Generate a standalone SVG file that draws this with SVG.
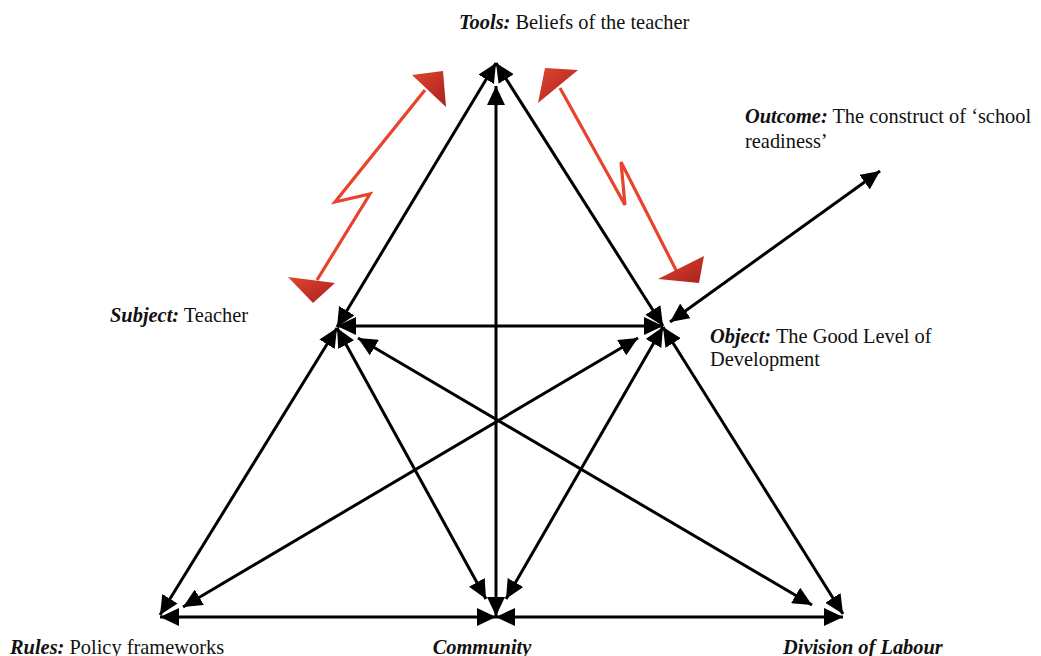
<svg xmlns="http://www.w3.org/2000/svg" width="1041" height="656" viewBox="0 0 1041 656">
  <style>
    .lbl { font-family: "Liberation Serif", "Times New Roman", serif; font-size: 20.4px; fill: #111; }
    .bi { font-weight: bold; font-style: italic; }
    .conn { stroke: #000; stroke-width: 3; fill: none; marker-start: url(#head); marker-end: url(#head); }
    .red { stroke: #e8432c; stroke-width: 3.2; fill: none; stroke-linejoin: miter; }
    .redhead { fill: url(#redgrad); }
  </style>
  <defs>
    <marker id="head" viewBox="0 0 19 18" refX="19" refY="9" markerWidth="19" markerHeight="18" markerUnits="userSpaceOnUse" orient="auto-start-reverse">
      <path d="M0,0 L19,9 L0,18 z" fill="#000"/>
    </marker>
    <linearGradient id="redgrad" x1="0" y1="0" x2="1" y2="1">
      <stop offset="0" stop-color="#e04430"/>
      <stop offset="1" stop-color="#a8221c"/>
    </linearGradient>
  </defs>
  <rect width="1041" height="656" fill="#fff"/>

  <g id="connectors">
    <line class="conn" x1="337" y1="327" x2="496" y2="63"/>
    <line class="conn" x1="663" y1="326" x2="496" y2="63"/>
    <line class="conn" x1="496" y1="616" x2="496" y2="86"/>
    <line class="conn" x1="337" y1="326" x2="663" y2="326"/>
    <line class="conn" x1="337" y1="328" x2="160" y2="615"/>
    <line class="conn" x1="337" y1="328" x2="486" y2="599"/>
    <line class="conn" x1="358" y1="338" x2="812" y2="605"/>
    <line class="conn" x1="638" y1="338" x2="183" y2="607"/>
    <line class="conn" x1="663" y1="327" x2="506" y2="599"/>
    <line class="conn" x1="663" y1="327" x2="843" y2="614"/>
    <line class="conn" x1="160" y1="617" x2="496" y2="617"/>
    <line class="conn" x1="843" y1="617" x2="496" y2="617"/>
    <line class="conn" x1="670" y1="322" x2="880" y2="171"/>
  </g>

  <g id="tension-left">
    <polyline class="red" points="425,90 335,202 370,194 317,280"/>
    <polygon class="redhead" points="412,75 443,71 446,107"/>
    <polygon class="redhead" points="288,277 335,283 313,303"/>
  </g>
  <g id="tension-right">
    <polyline class="red" points="560,88 625,205 621,162 677,272"/>
    <polygon class="redhead" points="538,103 545,68 578,70"/>
    <polygon class="redhead" points="658,279 704,256 699,283"/>
  </g>

  <g id="node-tools">
    <text class="lbl" x="459" y="29"><tspan class="bi">Tools:</tspan> Beliefs of the teacher</text>
  </g>
  <g id="node-outcome">
    <text class="lbl" x="745" y="123"><tspan class="bi">Outcome:</tspan> The construct of ‘school</text>
    <text class="lbl" x="745" y="148">readiness’</text>
  </g>
  <g id="node-subject">
    <text class="lbl" x="110" y="322"><tspan class="bi">Subject:</tspan> Teacher</text>
  </g>
  <g id="node-object">
    <text class="lbl" x="710" y="343"><tspan class="bi">Object:</tspan> The Good Level of</text>
    <text class="lbl" x="710" y="366">Development</text>
  </g>
  <g id="node-rules">
    <text class="lbl" x="10" y="654"><tspan class="bi">Rules:</tspan> Policy frameworks</text>
  </g>
  <g id="node-community">
    <text class="lbl bi" x="482" y="654" text-anchor="middle">Community</text>
  </g>
  <g id="node-division">
    <text class="lbl bi" x="783" y="654">Division of Labour</text>
  </g>
</svg>
